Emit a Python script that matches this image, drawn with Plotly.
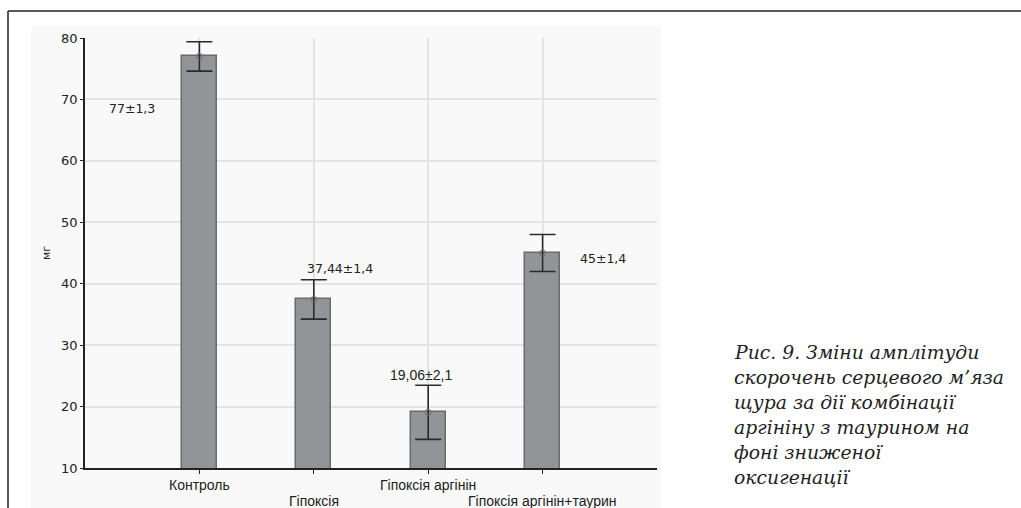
import plotly.graph_objects as go

categories = ["Контроль", "Гіпоксія", "Гіпоксія аргінін", "Гіпоксія аргінін+таурин"]
label_rows = [0, 1, 0, 1]  # staggered category labels: 0 = upper row, 1 = lower row
means = [77.0, 37.44, 19.06, 45.0]
err = [2.4, 3.2, 4.4, 3.0]
labels = ["77±1,3", "37,44±1,4", "19,06±2,1", "45±1,4"]
y_ticks = [10, 20, 30, 40, 50, 60, 70, 80]
caption = ["Рис. 9. Зміни амплітуди", "скорочень серцевого м’яза", "щура за дії комбінації",
           "аргініну з таурином на", "фоні зниженої", "оксигенації"]

W, H = 1021, 508
L, R, T, B = 85, 364, 38, 40
PW = W - L - R
PH = H - T - B

def px(x):
    return (x - L) / PW

def py(y):
    return 1 - (y - T) / PH

fig = go.Figure()
fig.add_trace(go.Bar(
    x=categories, y=means, width=0.305,
    marker=dict(color="#939497", line=dict(color="#6a6a6c", width=1.5)),
    error_y=dict(type="data", array=err, visible=True, color="#2a2a2a", thickness=1.6, width=13),
    showlegend=False, hoverinfo="skip",
))
fig.add_trace(go.Scatter(
    x=categories, y=means, mode="markers",
    marker=dict(symbol="circle-open", size=6, color="#6e6e6e", line=dict(width=1)),
    showlegend=False, hoverinfo="skip",
))

shapes = [
    dict(type="rect", xref="paper", yref="paper", x0=px(31), x1=px(661), y0=py(508), y1=py(26),
         fillcolor="#f9f9f9", line=dict(width=0), layer="below"),
    dict(type="line", xref="paper", yref="paper", x0=px(8), x1=px(1021), y0=py(11), y1=py(11),
         line=dict(color="#222222", width=1.5)),
    dict(type="line", xref="paper", yref="paper", x0=px(8), x1=px(8), y0=py(11), y1=py(508),
         line=dict(color="#222222", width=1.5)),
]

label_shifts = [(-67, -52), (26, 31), (-7, 37), (60, -5)]
label_fonts = [
    dict(family="DejaVu Sans", size=12.5, color="#222222"),
    dict(family="DejaVu Sans", size=12.5, color="#222222"),
    dict(family="Liberation Sans Narrow, Liberation Sans", size=14, color="#222222"),
    dict(family="DejaVu Sans", size=12.5, color="#222222"),
]
annotations = []
for c, m, t, (dx, dy), f in zip(categories, means, labels, label_shifts, label_fonts):
    annotations.append(dict(x=c, y=m, xref="x", yref="y", text=t, showarrow=False,
                            xshift=dx, yshift=dy, font=f, xanchor="center", yanchor="middle"))

cat_font = dict(family="Liberation Sans Narrow, Liberation Sans", size=14, color="#222222")
for c, r in zip(categories, label_rows):
    annotations.append(dict(x=c, y=py(485 + r * 16), xref="x", yref="paper", text=c,
                            showarrow=False, xanchor="center", yanchor="middle", font=cat_font))

for i, line in enumerate(caption):
    annotations.append(dict(x=px(732), y=py(352 + i * 25), xref="paper", yref="paper", text=line,
                            showarrow=False, xanchor="left", yanchor="middle",
                            font=dict(family="DejaVu Serif", size=18.8, color="#222222", style="italic")))

fig.update_layout(
    width=W, height=H,
    margin=dict(l=L, r=R, t=T, b=B, pad=0),
    paper_bgcolor="white", plot_bgcolor="white",
    shapes=shapes, annotations=annotations,
    bargap=0,
)
fig.update_xaxes(
    type="category", range=[-1, 4], tickmode="array", tickvals=categories,
    showticklabels=False, automargin=False,
    showgrid=True, gridcolor="#e4e4e4", gridwidth=1.5,
    showline=True, linecolor="#222222", linewidth=1.5,
    ticks="outside", ticklen=4, tickcolor="#222222",
    zeroline=False,
)
fig.update_yaxes(
    range=[10, 80], tickmode="array", tickvals=y_ticks, automargin=False,
    showgrid=True, gridcolor="#e4e4e4", gridwidth=1.5,
    showline=True, linecolor="#222222", linewidth=1.5,
    ticks="outside", ticklen=3, tickcolor="#222222",
    tickfont=dict(family="DejaVu Sans", size=13, color="#222222"),
    title=dict(text="мг", font=dict(family="DejaVu Sans", size=11, color="#222222"), standoff=8),
    zeroline=False,
)

fig.write_html("out.html")
